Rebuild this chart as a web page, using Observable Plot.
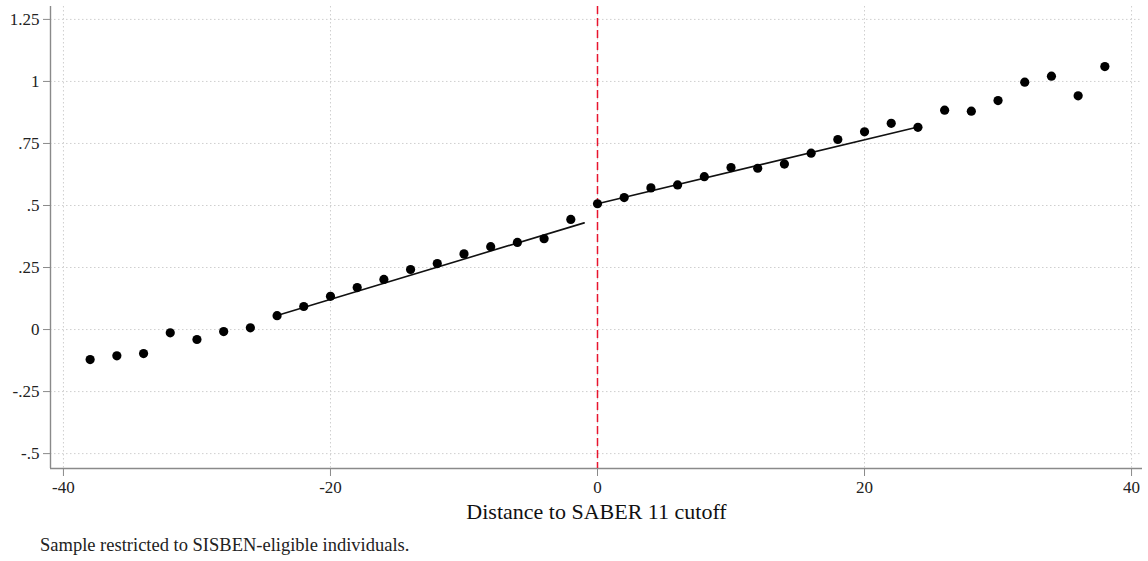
<!DOCTYPE html>
<html>
<head>
<meta charset="utf-8">
<script src="https://cdn.jsdelivr.net/npm/d3@7"></script>
<script src="https://cdn.jsdelivr.net/npm/@observablehq/plot@0.6"></script>
<style>
  html, body { margin: 0; padding: 0; background: #fff; }
  #wrap { position: relative; width: 1148px; height: 561px; overflow: hidden; }
  #caption { position: absolute; left: 40px; top: 535px; font-family: "Liberation Serif", serif; font-size: 18.5px; color: #222; white-space: nowrap; }
</style>
</head>
<body>
<div id="wrap"><div id="chart"></div><div id="caption">Sample restricted to SISBEN-eligible individuals.</div></div>
<script>
// Binned means by distance to cutoff
const binX = [-38,-36,-34,-32,-30,-28,-26,-24,-22,-20,-18,-16,-14,-12,-10,-8,-6,-4,-2,0,2,4,6,8,10,12,14,16,18,20,22,24,26,28,30,32,34,36,38];
const binY = [-0.121,-0.106,-0.097,-0.013,-0.040,-0.008,0.007,0.056,0.093,0.134,0.169,0.202,0.242,0.266,0.305,0.334,0.351,0.366,0.444,0.507,0.532,0.571,0.583,0.616,0.653,0.650,0.667,0.711,0.766,0.797,0.831,0.815,0.884,0.880,0.923,0.997,1.021,0.942,1.060];
// Linear fits on each side of the cutoff
const fitLeftX = [-24, -1];
const fitLeftY = [0.057, 0.430];
const fitRightX = [0, 24];
const fitRightY = [0.507, 0.816];
const xTicks = [-40, -20, 0, 20, 40];
const yTicks = [-0.5, -0.25, 0, 0.25, 0.5, 0.75, 1, 1.25];
const cutoff = [0];
const xTitle = "Distance to SABER 11 cutoff";

const points = binX.map((x, i) => ({x, y: binY[i]}));
const fitL = fitLeftX.map((x, i) => ({x, y: fitLeftY[i]}));
const fitR = fitRightX.map((x, i) => ({x, y: fitRightY[i]}));
const xDom = [-40.97, 40.82];
const yDom = [-0.56, 1.302];
const fmtY = d => String(d).replace(/^(-?)0\./, "$1.");
const fmtX = d => String(d);

const chart = Plot.plot({
  width: 1148,
  height: 535,
  marginLeft: 50,
  marginRight: 6,
  marginTop: 6,
  marginBottom: 67,
  style: { fontFamily: "Liberation Serif, serif", fontSize: "17px", color: "#222", background: "#fff" },
  x: { domain: xDom, axis: null },
  y: { domain: yDom, axis: null },
  marks: [
    Plot.gridX(xTicks, { stroke: "#cfcfcf", strokeOpacity: 1, strokeDasharray: "1.5,2.5" }),
    Plot.gridY(yTicks, { stroke: "#cfcfcf", strokeOpacity: 1, strokeDasharray: "1.5,2.5" }),
    Plot.ruleX([xDom[0]], { stroke: "#8a8a8a", strokeWidth: 1.4 }),
    Plot.ruleY([yDom[0]], { stroke: "#8a8a8a", strokeWidth: 1.4 }),
    Plot.axisX(xTicks, { tickSize: 8, stroke: "#8a8a8a", tickFormat: () => "", label: null }),
    Plot.axisY(yTicks, { tickSize: 7, stroke: "#8a8a8a", tickFormat: () => "", label: null }),
    Plot.text(xTicks, { x: d => d, frameAnchor: "bottom", dy: 24, text: fmtX, fontSize: 17, fill: "#222" }),
    Plot.text(yTicks, { y: d => d, frameAnchor: "left", dx: -11, textAnchor: "end", text: fmtY, fontSize: 17, fill: "#222" }),
    Plot.text([xTitle], { frameAnchor: "bottom", dy: 50, text: d => d, fontSize: 22, fill: "#111" }),
    Plot.ruleX(cutoff, { stroke: "#e8142e", strokeWidth: 1.5, strokeDasharray: "8,4" }),
    Plot.line(fitL, { x: "x", y: "y", stroke: "#111", strokeWidth: 1.6 }),
    Plot.line(fitR, { x: "x", y: "y", stroke: "#111", strokeWidth: 1.6 }),
    Plot.dot(points, { x: "x", y: "y", r: 4.6, fill: "#000", stroke: "none" })
  ]
});
document.getElementById("chart").appendChild(chart);
</script>
</body>
</html>
